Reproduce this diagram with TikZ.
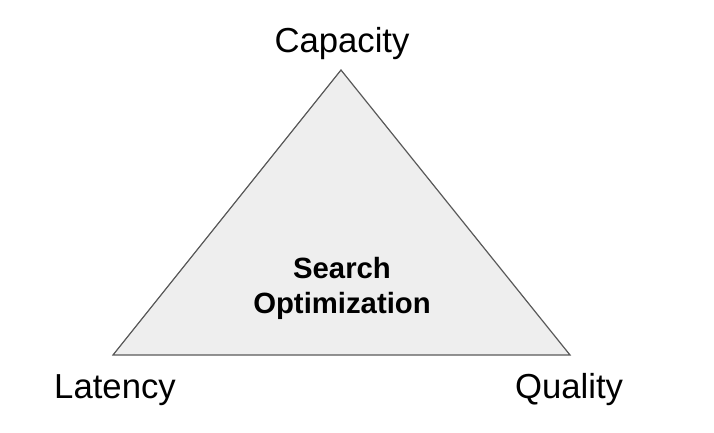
\documentclass[tikz,border=0pt]{standalone}
\usepackage{fontspec}
\setmainfont{Liberation Sans}
\usepackage{xcolor}
\usepackage{tikz}
\usetikzlibrary{positioning}
\definecolor{edgegray}{HTML}{595959}
\definecolor{fillgray}{HTML}{EEEEEE}
\tikzset{
  corner/.style={font=\fontsize{34.7}{40}\selectfont,inner sep=0pt,anchor=base},
  centre/.style={font=\fontsize{29.3}{35}\selectfont\bfseries,align=center,inner sep=0pt}
}

\begin{document}
\begin{tikzpicture}[x=1pt,y=-1pt]
\useasboundingbox (0,0) rectangle (714,432);
\coordinate (top) at (341,70);
\coordinate (left) at (113,355);
\coordinate (right) at (570,355);
\draw[draw=edgegray,fill=fillgray,line width=1.2pt,line join=miter]
  (top) -- (left) -- (right) -- cycle;
\node[centre] (goal) at (342,288) {Search\\Optimization};
\node[corner] (capacity) at (342,52) {Capacity};
\node[corner] (latency) at (115,398) {Latency};
\node[corner] (quality) at (569,398) {Quality};
\end{tikzpicture}
\end{document}
